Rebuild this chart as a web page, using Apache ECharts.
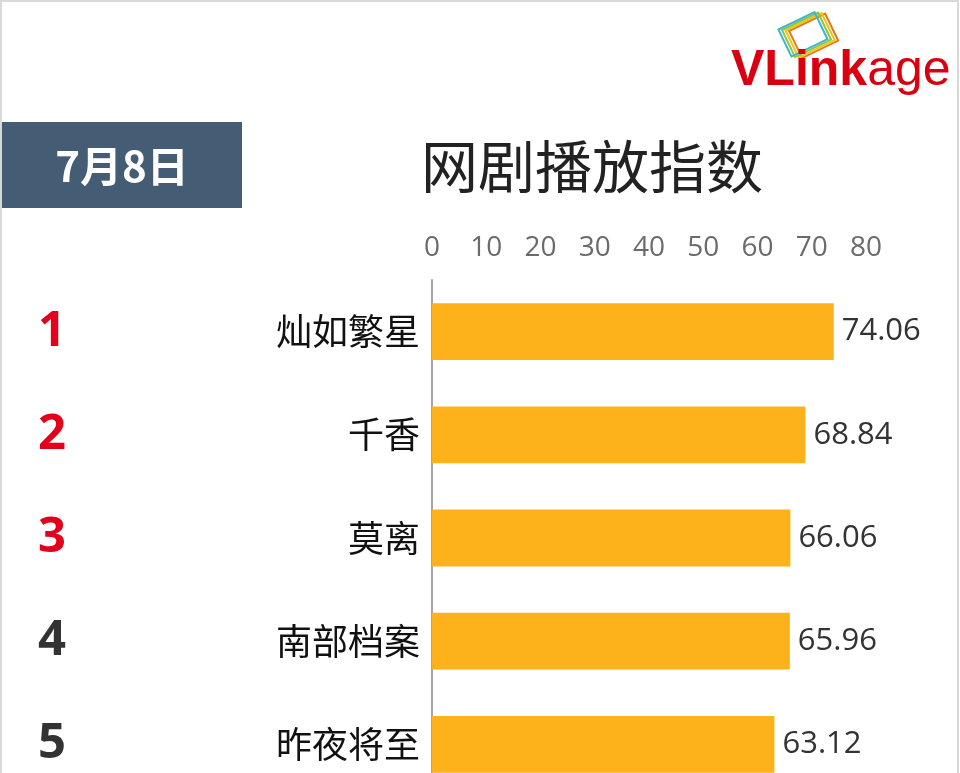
<!DOCTYPE html>
<html>
<head>
<meta charset="utf-8">
<script src="https://cdn.jsdelivr.net/npm/echarts@6/dist/echarts.min.js"></script>
<style>
  html, body { margin: 0; padding: 0; background: #fff; overflow: hidden; height: 773px; }
  #main { width: 960px; height: 820px; }
</style>
</head>
<body>
<div id="main"></div>
<script>
var dramas = ['灿如繁星', '千香', '莫离', '南部档案', '昨夜将至'];
var scores = [74.06, 68.84, 66.06, 65.96, 63.12];
var ranks = ['1', '2', '3', '4', '5'];
var dateText = '7月8日';
var titleText = '网剧播放指数';

var cjk = '"Noto Sans CJK SC", "Open Sans", sans-serif';
var myChart = echarts.init(document.getElementById('main'));

// chart is taller than the window: the last row runs off the bottom like the original
var option = {
    backgroundColor: '#fff',
    animation: false,
    grid: {
        left: 432,
        top: 280,
        right: 94,
        bottom: 24
    },
    xAxis: {
        type: 'value',
        position: 'top',
        min: 0,
        max: 80,
        interval: 10,
        axisLine: { show: false },
        axisTick: { show: false },
        splitLine: { show: false },
        axisLabel: {
            color: '#6b6b6b',
            fontSize: 28,
            fontFamily: '"Open Sans", sans-serif',
            margin: 18
        }
    },
    yAxis: [
        {
            type: 'category',
            inverse: true,
            data: dramas,
            axisLine: { show: true, lineStyle: { color: '#a6a6a6', width: 2 } },
            axisTick: { show: false },
            axisLabel: {
                color: '#111',
                fontSize: 36,
                fontFamily: cjk,
                margin: 12
            }
        },
        {
            type: 'category',
            inverse: true,
            position: 'left',
            offset: 380,
            data: ranks,
            axisLine: { show: false },
            axisTick: { show: false },
            axisLabel: {
                margin: 0,
                align: 'center',
                formatter: function (v) {
                    return Number(v) <= 3 ? '{top|' + v + '}' : '{rest|' + v + '}';
                },
                rich: {
                    top: { color: '#e2001a', fontSize: 49, fontWeight: 'bold', fontFamily: '"Open Sans", sans-serif' },
                    rest: { color: '#333', fontSize: 49, fontWeight: 'bold', fontFamily: '"Open Sans", sans-serif' }
                }
            }
        }
    ],
    series: [{
        type: 'bar',
        data: scores,
        barWidth: '55%',
        itemStyle: { color: '#fdb21b' },
        label: {
            show: true,
            position: 'right',
            distance: 8,
            color: '#333',
            fontSize: 31,
            fontFamily: '"Open Sans", sans-serif'
        }
    }],
    graphic: [
        {
            type: 'rect',
            shape: { x: 1, y: 1, width: 957, height: 850 },
            style: { fill: 'none', stroke: '#d9d9d9', lineWidth: 2 }
        },
        {
            type: 'rect',
            shape: { x: 2, y: 122, width: 240, height: 86 },
            style: { fill: '#455d74' }
        },
        {
            type: 'text',
            x: 122, y: 166,
            style: {
                text: dateText,
                fill: '#fff',
                font: 'bold 42px "Noto Sans CJK SC", sans-serif',
                align: 'center',
                verticalAlign: 'middle'
            }
        },
        {
            type: 'text',
            x: 592, y: 166,
            style: {
                text: titleText,
                fill: '#222',
                font: 'normal 57px "Noto Sans CJK SC", sans-serif',
                align: 'center',
                verticalAlign: 'middle'
            }
        },
        {
            type: 'group',
            x: 810, y: 42,
            rotation: Math.PI / 7,
            children: [
                { type: 'rect', shape: { x: -14, y: -19, width: 40, height: 30 }, style: { fill: 'none', stroke: '#e07b1c', lineWidth: 2 } },
                { type: 'rect', shape: { x: -17, y: -21, width: 40, height: 30 }, style: { fill: 'none', stroke: '#f2c21a', lineWidth: 2 } },
                { type: 'rect', shape: { x: -20, y: -23, width: 40, height: 30 }, style: { fill: 'none', stroke: '#8cc63f', lineWidth: 2 } },
                { type: 'rect', shape: { x: -23, y: -25, width: 40, height: 30 }, style: { fill: 'none', stroke: '#3bb5d0', lineWidth: 2 } }
            ]
        },
        {
            type: 'text',
            x: 731, y: 96,
            style: {
                text: '{b|VLink}{a|age}',
                verticalAlign: 'bottom',
                rich: {
                    b: { fill: '#d9000f', font: 'bold 50px "Liberation Sans", Arial, sans-serif' },
                    a: { fill: '#d9000f', font: '50px "Liberation Sans", Arial, sans-serif' }
                }
            }
        }
    ]
};
myChart.setOption(option);
</script>
</body>
</html>
